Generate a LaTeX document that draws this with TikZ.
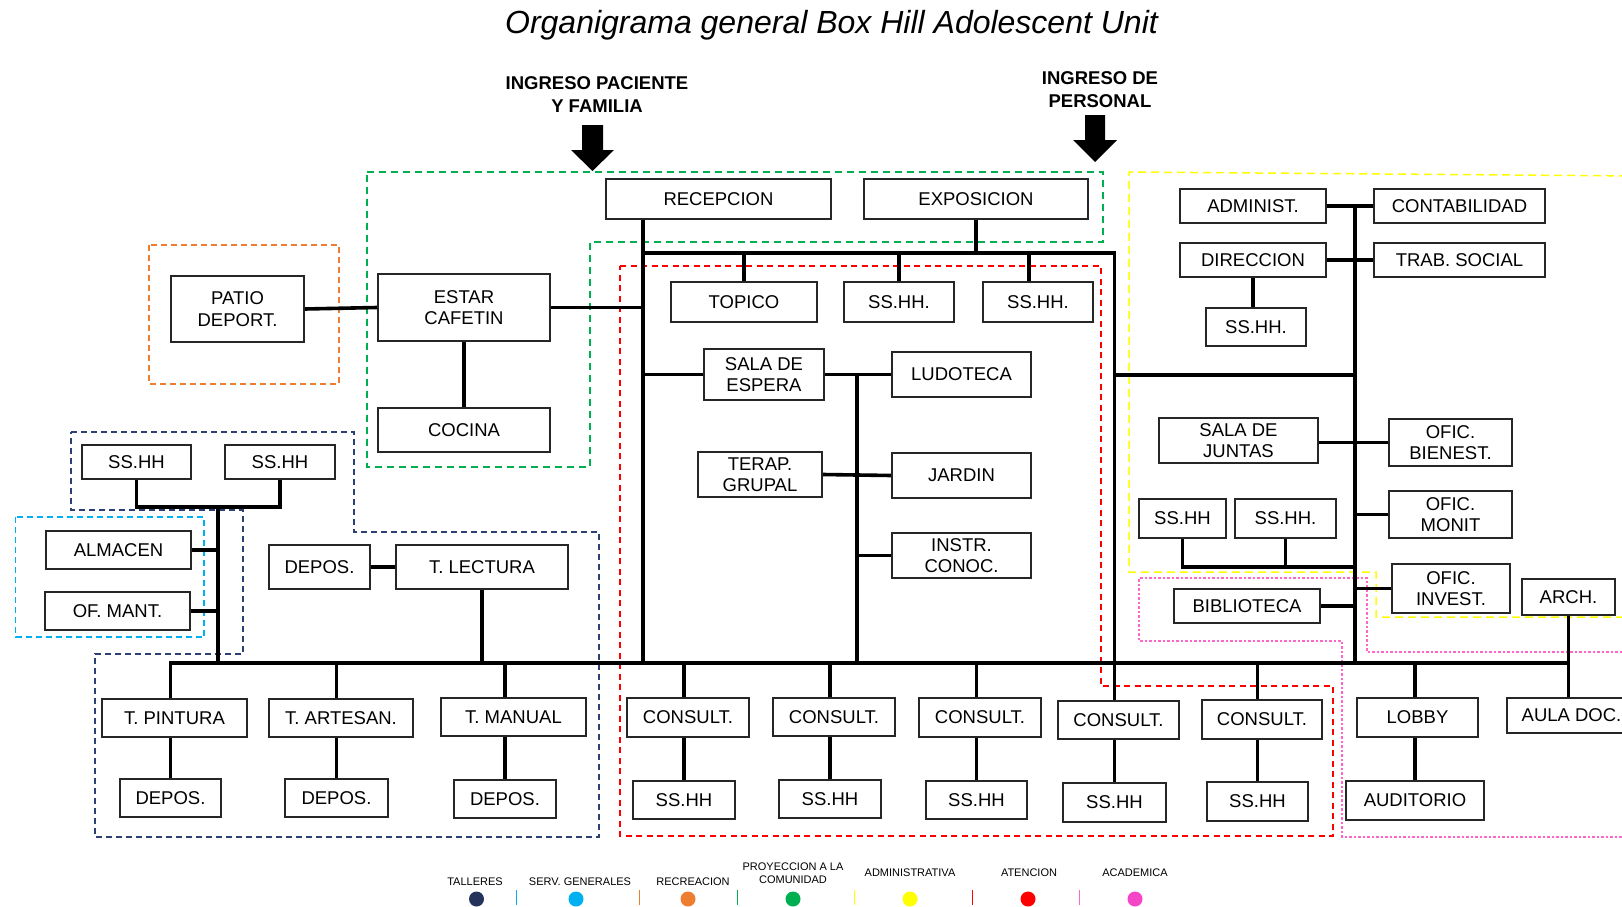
\documentclass[tikz,border=0pt]{standalone}
\usepackage{fontspec}
\setmainfont{Liberation Sans}
\pgfdeclarelayer{bg}
\pgfsetlayers{bg,main}
\definecolor{cnavy}{RGB}{44,64,115}
\definecolor{ccyan}{RGB}{0,176,240}
\definecolor{corange}{RGB}{237,125,49}
\definecolor{cgreen}{RGB}{0,176,80}
\definecolor{cyellow}{RGB}{255,255,0}
\definecolor{cred}{RGB}{255,0,0}
\definecolor{cpink}{RGB}{255,102,204}
\definecolor{cdotpink}{RGB}{245,70,200}
\tikzset{
  bx/.style={draw=black!85, line width=1.6pt, fill=white, inner sep=0pt, align=center,
             font=\fontsize{18.5}{21.5}\selectfont},
  conn/.style={line width=3.6pt, line cap=rect, line join=miter},
  hdr/.style={align=center, inner sep=0pt, font=\fontsize{18.5}{22.5}\selectfont\bfseries},
  lgd/.style={align=center, inner sep=0pt, anchor=base, font=\fontsize{11}{13.3}\selectfont},
  zone/.style={line width=1.5pt},
  dorange/.style={zone, draw=corange, dash pattern=on 6pt off 4pt},
  dgreen/.style={zone, draw=cgreen, dash pattern=on 7pt off 5pt},
  dred/.style={zone, draw=cred, dash pattern=on 6pt off 4.5pt},
  dnavy/.style={zone, draw=cnavy, dash pattern=on 6pt off 4pt},
  dcyan/.style={zone, draw=ccyan, dash pattern=on 6pt off 4pt},
  dyellow/.style={zone, draw=cyellow, dash pattern=on 8pt off 5pt},
  dpink/.style={line width=1.2pt, draw=cpink, dash pattern=on 2.5pt off 2pt},
}
\newcommand\mybox[6]{\node[bx, minimum width={#4-#2}, minimum height={#5-#3}] (#1) at ({(#2+#4)/2},{(#3+#5)/2}) {#6};}
\begin{document}
\begin{tikzpicture}[x=1pt,y=-1pt]
\useasboundingbox (0,0) rectangle (1622,907);

% title and headers
\node[font=\fontsize{32}{38}\selectfont\itshape, anchor=base, inner sep=0pt] (title) at (831.5,34) {Organigrama general Box Hill Adolescent Unit};
\node[hdr] (hpac) at (597,94.5) {INGRESO PACIENTE\\Y FAMILIA};
\node[hdr] (hper) at (1100,89.5) {INGRESO DE\\PERSONAL};
\fill (582,125) -- (603,125) -- (603,150) -- (614,150) -- (592.5,171) -- (571,150) -- (582,150) -- cycle;
\fill (1085,115) -- (1105,115) -- (1105,140) -- (1117,140) -- (1095,162) -- (1073,140) -- (1085,140) -- cycle;

% boxes: central block
\mybox{recep}{606}{179}{831}{219}{RECEPCION}
\mybox{expo}{864}{179}{1088}{219}{EXPOSICION}
\mybox{topico}{671}{282}{817}{322}{TOPICO}
\mybox{ssa1}{844}{282}{954}{322}{SS.HH.}
\mybox{ssa2}{983}{282}{1093}{322}{SS.HH.}
\mybox{sala}{704}{349}{824}{400}{SALA DE\\ESPERA}
\mybox{ludo}{892}{352}{1031}{397}{LUDOTECA}
\mybox{terap}{698}{452}{822}{497}{TERAP.\\GRUPAL}
\mybox{jardin}{892}{453}{1031}{498}{JARDIN}
\mybox{instr}{892}{533}{1031}{578}{INSTR.\\CONOC.}
% left block
\mybox{patio}{171}{276}{304}{342}{PATIO\\DEPORT.}
\mybox{estar}{378}{274}{550}{341}{ESTAR\\CAFETIN}
\mybox{cocina}{378}{408}{550}{452}{COCINA}
\mybox{nss1}{82}{445}{191}{479}{SS.HH}
\mybox{nss2}{225}{445}{335}{479}{SS.HH}
\mybox{almacen}{46}{531}{191}{569}{ALMACEN}
\mybox{ofmant}{45}{592}{190}{630}{OF. MANT.}
\mybox{depl}{269}{545}{370}{589}{DEPOS.}
\mybox{lectura}{396}{545}{568}{589}{T. LECTURA}
\mybox{pintura}{102}{699}{247}{737}{T. PINTURA}
\mybox{artesan}{269}{699}{413}{737}{T. ARTESAN.}
\mybox{manual}{441}{698}{586}{736}{T. MANUAL}
\mybox{dep1}{120}{779}{221}{817}{DEPOS.}
\mybox{dep2}{285}{779}{388}{817}{DEPOS.}
\mybox{dep3}{454}{780}{556}{818}{DEPOS.}
% bottom row
\mybox{con1}{627}{698}{749}{737}{CONSULT.}
\mybox{con2}{773}{698}{895}{736}{CONSULT.}
\mybox{con3}{919}{698}{1041}{737}{CONSULT.}
\mybox{con4}{1058}{701}{1179}{739}{CONSULT.}
\mybox{con5}{1202}{700}{1322}{739}{CONSULT.}
\mybox{sh1}{633}{781}{735}{819}{SS.HH}
\mybox{sh2}{779}{780}{881}{818}{SS.HH}
\mybox{sh3}{926}{781}{1027}{819}{SS.HH}
\mybox{sh4}{1063}{783}{1166}{822}{SS.HH}
\mybox{sh5}{1207}{782}{1308}{821}{SS.HH}
\mybox{lobby}{1357}{698}{1478}{737}{LOBBY}
\mybox{audit}{1346}{781}{1484}{820}{AUDITORIO}
\mybox{aula}{1507}{698}{1636}{733}{AULA DOC.}
% right block
\mybox{admin}{1180}{189}{1326}{223}{ADMINIST.}
\mybox{contab}{1374}{189}{1545}{223}{CONTABILIDAD}
\mybox{direc}{1180}{243}{1326}{277}{DIRECCION}
\mybox{trab}{1374}{243}{1545}{277}{TRAB. SOCIAL}
\mybox{ssd}{1206}{308}{1306}{346}{SS.HH.}
\mybox{juntas}{1159}{418}{1318}{463}{SALA DE\\JUNTAS}
\mybox{bienest}{1389}{419}{1512}{466}{OFIC.\\BIENEST.}
\mybox{monit}{1389}{491}{1512}{538}{OFIC.\\MONIT}
\mybox{ssj1}{1139}{499}{1226}{538}{SS.HH}
\mybox{ssj2}{1235}{499}{1336}{538}{SS.HH.}
\mybox{invest}{1392}{564}{1510}{613}{OFIC.\\INVEST.}
\mybox{arch}{1522}{579}{1615}{615}{ARCH.}
\mybox{biblio}{1174}{589}{1320}{623}{BIBLIOTECA}

% bus coordinates
\coordinate (LT) at (643,253);
\coordinate (RT) at (1114.5,253);
\coordinate (LB) at (643,663);
\coordinate (BL) at (170.5,663);
\coordinate (BR) at (1568.5,663);
\coordinate (MV) at (857,375);
\coordinate (AT) at (1355,206);
\coordinate (AB) at (1355,663);
\coordinate (JB) at (1355,567);
\coordinate (NJ) at (218,507);

\begin{pgfonlayer}{bg}
% zones
\draw[dorange] (149,245) rectangle (339,384);
\draw[dgreen] (367,172) -- (1103,172) -- (1103,242) -- (590,242) -- (590,467) -- (367,467) -- cycle;
\draw[dred] (620,266) -- (1101,266) -- (1101,686) -- (1333,686) -- (1333,836) -- (620,836) -- cycle;
\draw[dnavy] (71,432) -- (354,432) -- (354,532) -- (599,532) -- (599,837) -- (95,837) -- (95,654) -- (243,654) -- (243,510) -- (71,510) -- cycle;
\draw[dcyan] (15.5,517) rectangle (204,637);
\draw[dyellow] (1640,176) -- (1129,172) -- (1129,572) -- (1376,572) -- (1376,617) -- (1640,617);
\draw[dpink] (1640,652) -- (1367,652) -- (1367,578) -- (1139,578) -- (1139,641) -- (1342,641) -- (1342,837) -- (1640,837);

% connectors
\draw[conn] (recep.south -| LT) -- (LB);
\draw[conn] (LT) -- (RT) -- (sh4.north);
\draw[conn] (expo.south) -- (expo.south |- LT);
\draw[conn] (topico.north) -- (topico.north |- LT);
\draw[conn] (ssa1.north) -- (ssa1.north |- LT);
\draw[conn] ([xshift=-9pt]ssa2.north) -- ([xshift=-9pt]ssa2.north |- LT);
\draw[conn] (estar.east) -- (estar.east -| LT);
\draw[conn] (patio.east) -- (estar.west);
\draw[conn] (estar.south) -- (cocina.north);
\draw[conn] (sala.west -| LT) -- (sala.west);
\draw[conn] (sala.east) -- (ludo.west);
\draw[conn] (MV) -- (MV |- LB);
\draw[conn] (terap.east) -- (jardin.west);
\draw[conn] (instr.west -| MV) -- (instr.west);
\draw[conn] (RT |- MV) -- (AT |- MV);
\draw[conn] (AT) -- (AB);
\draw[conn] (admin.east) -- (contab.west);
\draw[conn] (direc.east) -- (trab.west);
\draw[conn] (direc.south) -- (direc.south |- ssd.north);
\draw[conn] (juntas.east |- bienest.west) -- (bienest.west);
\draw[conn] (monit.west -| AT) -- (monit.west);
\draw[conn] (ssj1.south) |- (JB);
\draw[conn] (ssj2.south) -- (ssj2.south |- JB);
\draw[conn] (invest.west -| AT) -- (invest.west);
\draw[conn] (biblio.east) -- (biblio.east -| AT);
\draw[conn] (BL) -- (BR);
\draw[conn] (arch.south) -- (arch.south |- aula.north);
\draw[conn] (dep1.north) -- (dep1.north |- BL);
\draw[conn] (dep2.north) -- (dep2.north |- BL);
\draw[conn] (dep3.north) -- (dep3.north |- BL);
\draw[conn] (lectura.south) -- (lectura.south |- BL);
\draw[conn] (depl.east) -- (lectura.west);
\draw[conn] (sh1.north) -- (sh1.north |- BL);
\draw[conn] (sh2.north) -- (sh2.north |- BL);
\draw[conn] (sh3.north) -- (sh3.north |- BL);
\draw[conn] (sh5.north) -- (sh5.north |- BL);
\draw[conn] (audit.north) -- (audit.north |- BL);
\draw[conn] (nss1.south) -- (nss1.south |- NJ) -- (nss2.south |- NJ) -- (nss2.south);
\draw[conn] (NJ) -- (NJ |- BL);
\draw[conn] (almacen.east) -- (almacen.east -| NJ);
\draw[conn] (ofmant.east) -- (ofmant.east -| NJ);
\end{pgfonlayer}

% legend
\node[lgd] (lg1) at (475,885.7) {TALLERES};
\node[lgd] (lg2) at (580,885.7) {SERV. GENERALES};
\node[lgd] (lg3) at (693,885.7) {RECREACION};
\node[lgd] (lg4) at (793,883.3) {PROYECCION A LA\\COMUNIDAD};
\node[lgd] (lg5) at (910,876.7) {ADMINISTRATIVA};
\node[lgd] (lg6) at (1029,876.7) {ATENCION};
\node[lgd] (lg7) at (1135,876.7) {ACADEMICA};
\fill[cnavy!80!black] (476.5,899) circle (7.5);
\fill[ccyan] (576,899) circle (7.5);
\fill[corange] (688,899) circle (7.5);
\fill[cgreen] (793,899) circle (7.5);
\fill[cyellow] (910,899) circle (7.5);
\fill[cred] (1028,899) circle (7.5);
\fill[cdotpink] (1135,899) circle (7.5);
\draw[ccyan, line width=1pt] (516,890) -- (516,905);
\draw[corange, line width=1pt] (639,890) -- (639,905);
\draw[cgreen, line width=1pt] (737,890) -- (737,905);
\draw[cyellow, line width=1pt] (854,890) -- (854,905);
\draw[cred, line width=1pt] (972,890) -- (972,905);
\draw[cpink, line width=1pt] (1079,890) -- (1079,905);
\end{tikzpicture}
\end{document}
